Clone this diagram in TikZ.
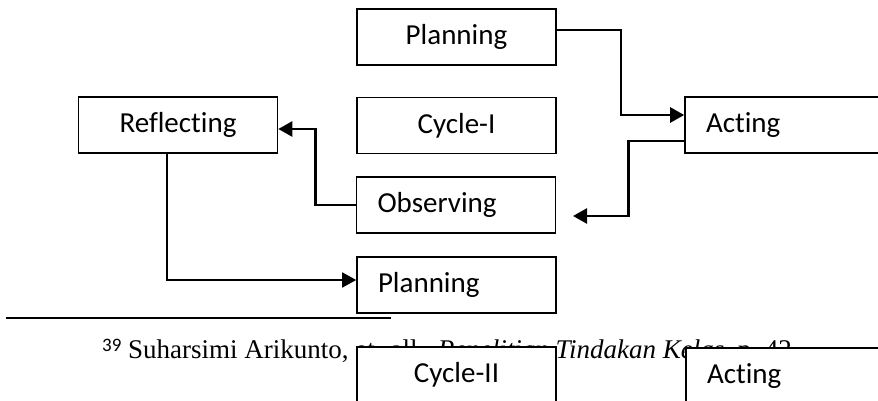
\documentclass[tikz,border=0pt]{standalone}
\usepackage{fontspec}
\setmainfont{Liberation Serif}
\newfontfamily\boxfont[Ligatures={NoCommon}]{Carlito}
\usetikzlibrary{arrows.meta}
\tikzset{
	box/.style={draw, line width=1.6pt, fill=white, minimum width=199pt, minimum height=56pt, inner sep=0pt, font=\boxfont\fontsize{29}{32}\selectfont},
	leftbox/.style={box, text width=157pt, inner xsep=21pt, align=left},
	flow/.style={line width=2.6pt, -{Triangle[length=14pt, width=15pt]}},
	thinflow/.style={flow, line width=1.8pt}
}

\begin{document}
\begin{tikzpicture}[x=1pt, y=-1pt]
			\useasboundingbox (0,0) rectangle (878,401);
			\clip (0,0) rectangle (878,401);
			
			% ==========================================
			% FOOTNOTE (partly hidden behind the boxes)
			% ==========================================
			\draw[line width=2pt] (6,318) -- (391,318);
			\node[anchor=base west, inner sep=0pt, font=\fontsize{27}{30}\selectfont] (note) at (102,358)
				{\raisebox{7pt}{\boxfont\fontsize{19}{19}\selectfont 39} Suharsimi Arikunto, et. all., \textit{Penelitian Tindakan}\ \textit{Kelas}, p.~42};
			
			% ==========================================
			% CYCLE I
			% ==========================================
			\node[box] (plan1) at (456.5,37) {Planning};
			\node[box] (cycle1) at (456.5,125.5) {Cycle-I};
			\node[box] (reflect) at (178,125) {Reflecting};
			\node[leftbox] (act1) at (784.5,125) {Acting};
			\node[leftbox] (observe) at (456,205) {Observing};
			\node[leftbox] (plan2) at (456.5,285) {Planning};
			\coordinate (loose) at (573,216);
			
			% --- connectors ---
			\draw[flow] ([yshift=7pt]plan1.east) -- ++(64,0) |- ([yshift=10pt]act1.west);
			\draw[flow] ([yshift=-16pt]act1.west) -- ++(-56,0) |- (loose);
			\draw[flow] (observe.west) -- ++(-40,0) |- ([yshift=-4pt]reflect.east);
			\draw[thinflow] ([xshift=-11pt]reflect.south) |- ([yshift=5pt]plan2.west);
			
			% ==========================================
			% CYCLE II
			% ==========================================
			\node[box] (cycle2) at (456.5,375) {Cycle-II};
			\node[leftbox] (act2) at (785.5,376) {Acting};
			
		\end{tikzpicture}
\end{document}
